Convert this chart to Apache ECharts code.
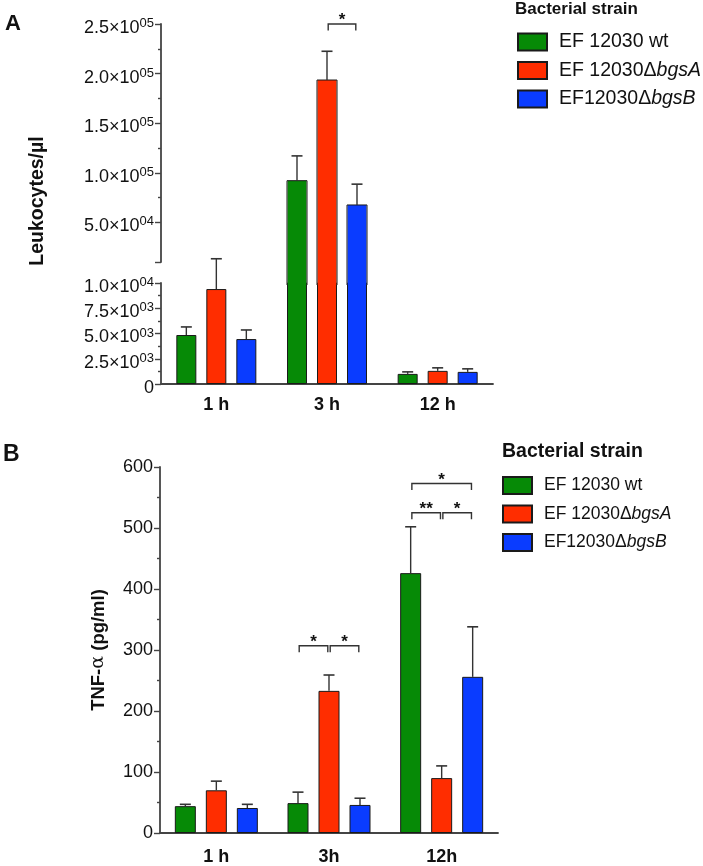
<!DOCTYPE html>
<html><head><meta charset="utf-8">
<script src="https://cdn.jsdelivr.net/npm/echarts@6/dist/echarts.min.js"></script>
<style>html,body{margin:0;padding:0;background:#fff}#c{width:703px;height:866px}</style>
</head><body><div id="c"></div>
<script>
// ---------- DATA ----------
const seriesNames = ['EF 12030 wt', 'EF 12030ΔbgsA', 'EF12030ΔbgsB'];
const catsA = ['1 h', '3 h', '12 h'];
const catsB = ['1 h', '3h', '12h'];

// Panel A: Leukocytes/µl (means and SEM)
const leukWt = [4850, 92000, 1000];
const leukBgsA = [9400, 193500, 1300];
const leukBgsB = [4450, 67500, 1200];
const leukWtErr = [800, 25000, 200];
const leukBgsAErr = [3000, 29000, 300];
const leukBgsBErr = [900, 21000, 300];
// Panel A broken axis
const leukBreak = 10000;
const leukTopMax = 250000;
const leukTopTicks = [50000, 100000, 150000, 200000, 250000];
const leukTopMinorTicks = [75000, 125000, 175000, 225000];
const leukLowMax = 10000;
const leukLowInterval = 2500;

// Panel B: TNF-α (pg/ml)
const tnfWt = [44, 49, 426];
const tnfBgsA = [70, 233, 90];
const tnfBgsB = [41, 46, 256];
const tnfWtErr = [3, 18, 76];
const tnfBgsAErr = [15, 26, 20];
const tnfBgsBErr = [6, 11, 82];
const tnfMax = 600;
const tnfInterval = 100;

// significance brackets: [category, fromSeries, toSeries, level, label]
const sigA = [[1, 1, 2, 250000, '*']];
const sigB = [
  [1, 0, 1, 307, '*'], [1, 1, 2, 307, '*'],
  [2, 0, 1, 525, '**'], [2, 1, 2, 525, '*'],
  [2, 0, 2, 573, '*']
];

// ---------- STYLE / LAYOUT ----------
const colors = ['#068a06', '#ff2d00', '#0a3cff'];
const FONT = "Arial, 'Liberation Sans', sans-serif";
const axisCol = '#444';
const A = {left: 161, width: 332, top: 24, topH: 238, lowTop: 283, lowH: 101, barW: 20, pitch: 30};
const B = {left: 160, width: 338, top: 467, height: 366, barW: 21, pitch: 31};

const leukVals = [leukWt, leukBgsA, leukBgsB];
const leukErrs = [leukWtErr, leukBgsAErr, leukBgsBErr];
const tnfVals = [tnfWt, tnfBgsA, tnfBgsB];
const tnfErrs = [tnfWtErr, tnfBgsAErr, tnfBgsBErr];

// bar-grid min so that the bar grid (extending through the gap) shares the top-axis scale
const perPx = (leukTopMax - leukBreak) / A.topH;
const barGridH = A.lowTop - A.top;
const barGridMin = leukTopMax - barGridH * perPx;

function sci(v) {
  if (v === 0) return '{m|0}';
  const e = Math.floor(Math.log10(v) + 1e-9);
  const m = (v / Math.pow(10, e)).toFixed(1);
  return '{m|' + m + '×10}{e|' + String(e).padStart(2, '0') + '}';
}
const sciRich = {
  m: {fontSize: 18, lineHeight: 22, fontFamily: FONT, color: '#111'},
  e: {fontSize: 13, lineHeight: 13, verticalAlign: 'top', fontFamily: FONT, color: '#111'}
};

function upperBarRender(pitch, barW) {
  return function (params, api) {
    const c = api.value(0), s = api.value(1), v = api.value(2);
    const p0 = api.coord([c, v]);
    const p1 = api.coord([c, barGridMin]);
    const x = p0[0] + (s - 1) * pitch - barW / 2;
    return {
      type: 'group',
      children: [
        {type: 'rect', shape: {x: x + 0.5, y: p0[1], width: barW - 1, height: p1[1] - p0[1] + 2}, style: {fill: colors[s]}},
        {type: 'polyline', shape: {points: [[x, p1[1] + 2], [x, p0[1]], [x + barW, p0[1]], [x + barW, p1[1] + 2]]},
          style: {stroke: '#1a1a1a', lineWidth: 1, fill: null}}
      ]
    };
  };
}
function errRender(pitch) {
  return function (params, api) {
    const c = api.value(0), s = api.value(1), v = api.value(2), e = api.value(3);
    const p0 = api.coord([c, v]);
    const p1 = api.coord([c, v + e]);
    const x = p0[0] + (s - 1) * pitch;
    return {
      type: 'group',
      children: [
        {type: 'line', shape: {x1: x, y1: p0[1], x2: x, y2: p1[1]}, style: {stroke: '#333', lineWidth: 1.4}},
        {type: 'line', shape: {x1: x - 5.5, y1: p1[1], x2: x + 5.5, y2: p1[1]}, style: {stroke: '#333', lineWidth: 1.6}}
      ]
    };
  };
}
function sigRender(pitch) {
  return function (params, api) {
    const c = api.value(0), f = api.value(1), t = api.value(2), lv = api.value(3);
    const p = api.coord([c, lv]);
    const x1 = p[0] + (f - 1) * pitch + 1.2;
    const x2 = p[0] + (t - 1) * pitch - 1.2;
    const y = p[1];
    return {
      type: 'group',
      children: [
        {type: 'polyline', shape: {points: [[x1, y + 6.5], [x1, y], [x2, y], [x2, y + 6.5]]}, style: {stroke: '#333', lineWidth: 1.4, fill: null}},
        {type: 'text', x: (x1 + x2) / 2, y: y + 5, style: {text: api.value(4), font: 'bold 17px ' + FONT, fill: '#111', textAlign: 'center', textVerticalAlign: 'bottom'}}
      ]
    };
  };
}

function valData(vals, errs, keep) {
  const out = [];
  vals.forEach((arr, s) => arr.forEach((v, c) => { if (keep(v)) out.push([c, s, v, errs[s][c]]); }));
  return out;
}

const series = [];
// Panel A lower bars (named, used by legends)
leukVals.forEach((arr, s) => series.push({
  type: 'bar', name: seriesNames[s], xAxisIndex: 2, yAxisIndex: 3,
  data: arr.slice(),
  barWidth: A.barW, barGap: '50%', clip: true, silent: true, z: 2,
  itemStyle: {color: colors[s], borderColor: '#1a1a1a', borderWidth: 1}
}));
// Panel B bars
tnfVals.forEach((arr, s) => series.push({
  type: 'bar', name: seriesNames[s], xAxisIndex: 3, yAxisIndex: 4,
  data: arr.slice(),
  barWidth: B.barW, barGap: ((B.pitch - B.barW) / B.barW * 100) + '%', silent: true,
  itemStyle: {color: colors[s], borderColor: '#1a1a1a', borderWidth: 1}
}));
// Panel A upper parts of bars (continuing through the axis break)
series.push({type: 'custom', name: 'barsA_up', xAxisIndex: 1, yAxisIndex: 2, renderItem: upperBarRender(A.pitch, A.barW),
  data: valData(leukVals, leukErrs, v => v > leukBreak), encode: {x: 0, y: 2}, silent: true, z: 3, clip: false});
// error bars
series.push({type: 'custom', name: 'errA_up', xAxisIndex: 1, yAxisIndex: 2, renderItem: errRender(A.pitch),
  data: valData(leukVals, leukErrs, v => v > leukBreak), encode: {x: 0, y: 2}, silent: true, z: 4});
series.push({type: 'custom', name: 'errA_low', xAxisIndex: 2, yAxisIndex: 3, renderItem: errRender(A.pitch),
  data: valData(leukVals, leukErrs, v => v <= leukBreak), encode: {x: 0, y: 2}, silent: true, z: 4, clip: false});
series.push({type: 'custom', name: 'errB', xAxisIndex: 3, yAxisIndex: 4, renderItem: errRender(B.pitch),
  data: valData(tnfVals, tnfErrs, v => true), encode: {x: 0, y: 2}, silent: true, z: 4});
// significance
series.push({type: 'custom', name: 'sigA', xAxisIndex: 1, yAxisIndex: 2, renderItem: sigRender(A.pitch),
  data: sigA, encode: {x: 0, y: 3}, silent: true, z: 4});
series.push({type: 'custom', name: 'sigB', xAxisIndex: 3, yAxisIndex: 4, renderItem: sigRender(B.pitch),
  data: sigB, encode: {x: 0, y: 3}, silent: true, z: 4});

const hiddenX = (g, cats) => ({type: 'category', gridIndex: g, data: cats, show: false});
const catX = (g, cats, margin) => ({
  type: 'category', gridIndex: g, data: cats,
  axisLine: {show: true, lineStyle: {color: axisCol, width: 1.8}},
  axisTick: {show: false},
  axisLabel: {margin: margin, fontSize: 18, fontWeight: 'bold', color: '#111', fontFamily: FONT}
});

function legendFmt(name) {
  const k = name.indexOf('Δ');
  if (k < 0) return '{n|' + name + '}';
  return '{n|' + name.slice(0, k + 1) + '}{i|' + name.slice(k + 1) + '}';
}
function makeLegend(left, top, fs, gap) {
  return {
    left: left, top: top, padding: 0,
    orient: 'vertical', itemWidth: 29, itemHeight: 17, itemGap: gap, icon: 'rect',
    data: seriesNames, selectedMode: false,
    textStyle: {fontSize: fs, color: '#111', fontFamily: FONT, padding: [0, 0, 0, 7],
      rich: {n: {fontSize: fs, fontFamily: FONT, color: '#111'}, i: {fontSize: fs, fontStyle: 'italic', fontFamily: FONT, color: '#111'}}},
    formatter: legendFmt
  };
}

const option = {
  animation: false,
  backgroundColor: '#fff',
  textStyle: {fontFamily: FONT},
  title: [
    {text: 'A', left: 5, top: 13, padding: 0, textStyle: {fontSize: 22, fontWeight: 'bold', color: '#111', fontFamily: FONT}},
    {text: 'B', left: 3, top: 443, padding: 0, textStyle: {fontSize: 23, fontWeight: 'bold', color: '#111', fontFamily: FONT}},
    {text: 'Bacterial strain', left: 515, top: 1, padding: 0, textStyle: {fontSize: 17, fontWeight: 'bold', color: '#111', fontFamily: FONT}},
    {text: 'Bacterial strain', left: 502, top: 442, padding: 0, textStyle: {fontSize: 19.5, fontWeight: 'bold', color: '#111', fontFamily: FONT}}
  ],
  legend: [makeLegend(517, 32, 19.5, 8.5), makeLegend(502, 476, 17.5, 9.5)],
  grid: [
    {left: A.left, top: A.top, width: A.width, height: A.topH, outerBoundsMode: 'none'},
    {left: A.left, top: A.top, width: A.width, height: barGridH, outerBoundsMode: 'none'},
    {left: A.left, top: A.lowTop, width: A.width, height: A.lowH, outerBoundsMode: 'none'},
    {left: B.left, top: B.top, width: B.width, height: B.height, outerBoundsMode: 'none'}
  ],
  xAxis: [hiddenX(0, catsA), hiddenX(1, catsA), catX(2, catsA, 12), catX(3, catsB, 15)],
  yAxis: [
    {type: 'value', gridIndex: 0, position: 'left', min: leukBreak, max: leukTopMax, splitLine: {show: false},
      axisLine: {show: true, lineStyle: {color: axisCol, width: 1.8}},
      axisTick: {show: true, length: 6, customValues: [leukBreak].concat(leukTopTicks), lineStyle: {color: axisCol, width: 1.4}},
      axisLabel: {customValues: leukTopTicks, formatter: sci, rich: sciRich, margin: 7, padding: [8, 0, 0, 0]}},
    {type: 'value', gridIndex: 0, position: 'left', offset: 0, min: leukBreak, max: leukTopMax, splitLine: {show: false},
      axisLine: {show: false}, axisLabel: {show: false},
      axisTick: {show: true, length: 3, customValues: leukTopMinorTicks, lineStyle: {color: axisCol, width: 1.4}}},
    {type: 'value', gridIndex: 1, min: barGridMin, max: leukTopMax, show: false, splitLine: {show: false}},
    {type: 'value', gridIndex: 2, min: 0, max: leukLowMax, interval: leukLowInterval, splitLine: {show: false},
      axisLine: {show: true, lineStyle: {color: axisCol, width: 1.8}},
      axisTick: {show: true, length: 6, lineStyle: {color: axisCol, width: 1.4}},
      minorTick: {show: true, splitNumber: 2, length: 3, lineStyle: {color: axisCol, width: 1.4}},
      axisLabel: {formatter: sci, rich: sciRich, margin: 7, padding: [8, 0, 0, 0]}},
    {type: 'value', gridIndex: 3, min: 0, max: tnfMax, interval: tnfInterval, splitLine: {show: false},
      axisLine: {show: true, lineStyle: {color: axisCol, width: 1.8}},
      axisTick: {show: true, length: 6, lineStyle: {color: axisCol, width: 1.4}},
      minorTick: {show: true, splitNumber: 2, length: 3, lineStyle: {color: axisCol, width: 1.4}},
      axisLabel: {fontSize: 18, color: '#111', margin: 7, fontFamily: FONT},
      name: '{b|TNF-}{a|α}{b| (pg/ml)}', nameLocation: 'middle', nameRotate: 90, nameGap: 52,
      nameTextStyle: {rich: {b: {fontSize: 18.5, fontWeight: 'bold', color: '#111', fontFamily: FONT},
        a: {fontSize: 19, color: '#111', fontFamily: "'DejaVu Serif', serif"}}}}
  ],
  graphic: [
    {type: 'text', x: 38, y: 201, rotation: Math.PI / 2,
      style: {text: 'Leukocytes/µl', font: 'bold 19.5px ' + FONT, fill: '#111', textAlign: 'center', textVerticalAlign: 'middle'}}
  ],
  series: series
};

const chart = echarts.init(document.getElementById('c'), null, {renderer: 'canvas'});
chart.setOption(option);
</script>
</body></html>
